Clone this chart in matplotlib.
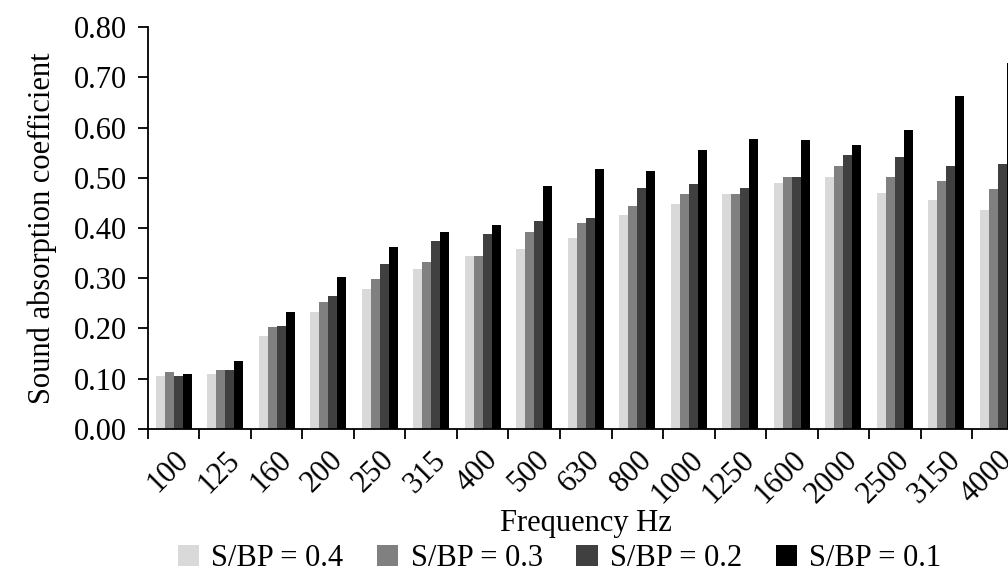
import matplotlib.pyplot as plt
import numpy as np

# frequency bands and absorption values
freqs = ['100', '125', '160', '200', '250', '315', '400', '500', '630', '800',
         '1000', '1250', '1600', '2000', '2500', '3150', '4000']
sbp_04 = [0.105, 0.110, 0.185, 0.232, 0.278, 0.318, 0.345, 0.358, 0.380, 0.426,
          0.447, 0.467, 0.490, 0.502, 0.469, 0.456, 0.436]
sbp_03 = [0.113, 0.118, 0.203, 0.253, 0.298, 0.333, 0.345, 0.392, 0.410, 0.443,
          0.467, 0.467, 0.502, 0.524, 0.502, 0.494, 0.478]
sbp_02 = [0.105, 0.118, 0.205, 0.265, 0.328, 0.375, 0.388, 0.413, 0.420, 0.480,
          0.488, 0.480, 0.502, 0.545, 0.541, 0.524, 0.528]
sbp_01 = [0.110, 0.135, 0.232, 0.303, 0.362, 0.392, 0.405, 0.484, 0.517, 0.513,
          0.555, 0.577, 0.575, 0.566, 0.595, 0.662, 0.729]

series = [sbp_04, sbp_03, sbp_02, sbp_01]
labels = ['S/BP = 0.4', 'S/BP = 0.3', 'S/BP = 0.2', 'S/BP = 0.1']
colours = ['#d9d9d9', '#808080', '#404040', '#000000']

plt.rcParams['font.family'] = 'Liberation Serif'
fs = 22

fig = plt.figure(figsize=(10.08, 5.75), dpi=100)
ax = fig.add_axes([0.1468, 0.254, 0.8686, 0.699])

x = np.arange(len(freqs))
w = 0.175
for i, (vals, lab, col) in enumerate(zip(series, labels, colours)):
    ax.bar(x + (i - 1.5) * w, vals, width=w, color=col, label=lab)

ax.set_xlim(-0.5, len(freqs) - 0.5)
ax.set_ylim(0, 0.8)
ax.set_yticks(np.arange(0, 0.81, 0.1))
ax.set_yticklabels(['%.2f' % v for v in np.arange(0, 0.81, 0.1)], fontsize=fs)

ax.set_xticks(x)
ax.set_xticklabels(freqs, rotation=45, ha='right', rotation_mode='anchor', fontsize=fs)
ax.set_xticks(np.arange(-0.5, len(freqs)), minor=True)
ax.tick_params(axis='x', which='major', length=0, pad=12)
ax.tick_params(axis='x', which='minor', length=7, width=1.3, direction='out')
ax.tick_params(axis='y', length=7, width=1.3, direction='out', pad=8)

ax.spines['top'].set_visible(False)
ax.spines['right'].set_visible(False)
ax.spines['left'].set_linewidth(1.3)
ax.spines['bottom'].set_linewidth(1.3)

ax.set_ylabel('Sound absorption coefficient', fontsize=fs, labelpad=12)
ax.set_xlabel('Frequency Hz', fontsize=fs, labelpad=0)

fig.legend(loc='lower center', bbox_to_anchor=(0.555, -0.045), ncol=4, frameon=False,
           fontsize=fs, handlelength=0.7, handleheight=0.7, handletextpad=0.4,
           columnspacing=1.1)

fig.savefig('out.png', dpi=100)
